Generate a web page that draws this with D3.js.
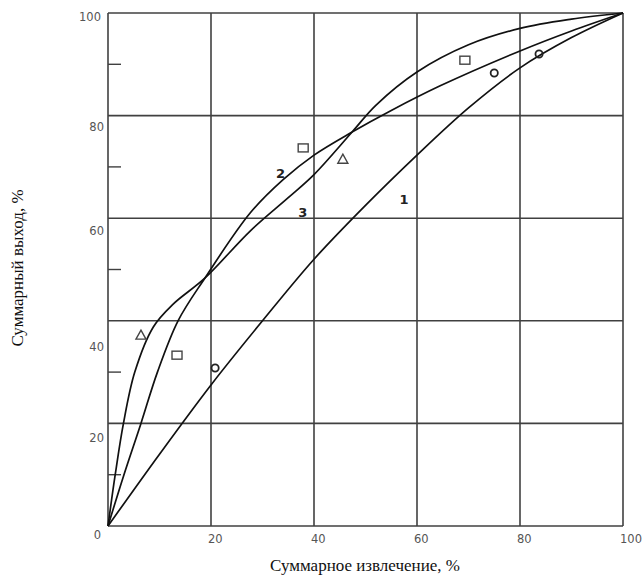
<!DOCTYPE html>
<html>
<head>
<meta charset="utf-8">
<script src="https://cdn.jsdelivr.net/npm/d3@7/dist/d3.min.js"></script>
<style>
html,body{margin:0;padding:0;background:#fff;}
svg{display:block;}
</style>
</head>
<body>
<script>
// ---- data ----
const xTicks = [0, 20, 40, 60, 80, 100];
const yTicks = [0, 20, 40, 60, 80, 100];
const yMinor = [10, 30, 50, 70, 90];
const xTickLabels = ["0", "20", "40", "60", "80", "100"];
const yTickLabels = ["0", "20", "40", "60", "80", "100"];

const curve1 = [[0,0],[10,14],[20,27.5],[30,40],[40,52],[50,62.5],[60,72.3],[70,81.5],[80,89.3],[90,95.2],[100,100]];
const curve2 = [[0,0],[3.1,10],[6.4,20],[9.6,30],[13.6,40],[18.8,48.3],[27.6,61],[34,67.5],[40,72.3],[47.4,76.8],[55,81],[64.5,85.8],[80,92.6],[90,96.5],[100,100]];
const curve3 = [[0,0],[1.4,10],[3.0,20],[5.2,30],[8.8,38.8],[12.6,43.2],[18.8,48.3],[27.6,57.5],[35,64],[40,68.5],[47.4,76.8],[52,82],[60,88.5],[70,93.8],[80,97],[90,98.8],[100,100]];

const triangles = [[6.4,37.2],[45.6,71.5]];
const squares = [[13.4,33.3],[37.9,73.7],[69.3,90.8]];
const circles = [[20.8,30.8],[75,88.3],[83.7,92]];

const curveLabels = [["1",57.5,63.5],["2",33.5,68.5],["3",37.8,61]];

const xTitle = "Суммарное извлечение, %";
const yTitle = "Суммарный выход, %";

// ---- layout ----
const W = 642, H = 576;
const L = 108, R = 623, T = 13, B = 526;

const svg = d3.select("body").append("svg").attr("width", W).attr("height", H);
const x = d3.scaleLinear().domain([0,100]).range([L,R]);
const y = d3.scaleLinear().domain([0,100]).range([B,T]);

const gridCol = "#404040";
// grid
svg.append("g").selectAll("line").data(xTicks).join("line")
  .attr("x1", d=>x(d)).attr("x2", d=>x(d)).attr("y1", T).attr("y2", B)
  .attr("stroke", gridCol).attr("stroke-width", 1.6);
svg.append("g").selectAll("line").data(yTicks).join("line")
  .attr("y1", d=>y(d)).attr("y2", d=>y(d)).attr("x1", L).attr("x2", R)
  .attr("stroke", gridCol).attr("stroke-width", 1.6);
// minor ticks
svg.append("g").selectAll("line").data(yMinor).join("line")
  .attr("y1", d=>y(d)).attr("y2", d=>y(d)).attr("x1", L).attr("x2", L+13)
  .attr("stroke", gridCol).attr("stroke-width", 1.4);

// tick labels
const tickFont = "'DejaVu Sans', Verdana, sans-serif";
svg.append("g").selectAll("text").data(xTicks.slice(1)).join("text")
  .attr("x", d=>x(d)-3).attr("y", B+17)
  .attr("font-family", tickFont).attr("font-size", 11.5).attr("fill", "#555")
  .text((d,i)=>xTickLabels[i+1]);
const yOff = {0:13, 20:19, 40:30, 60:17, 80:15, 100:8};
svg.append("g").selectAll("text").data(yTicks).join("text")
  .attr("x", d=> d===0 || d===100 ? 101 : 104).attr("y", d=>y(d)+yOff[d])
  .attr("text-anchor", "end")
  .attr("font-family", tickFont).attr("font-size", 11.5).attr("fill", "#555")
  .text((d,i)=>yTickLabels[i]);

// curves
const line = d3.line().x(d=>x(d[0])).y(d=>y(d[1])).curve(d3.curveCatmullRom.alpha(0.5));
[curve1, curve2, curve3].forEach(c=>{
  svg.append("path").datum(c).attr("d", line)
    .attr("fill","none").attr("stroke","#111").attr("stroke-width",1.7);
});

// markers
const mk = "#444";
svg.append("g").selectAll("path").data(triangles).join("path")
  .attr("d", d=>{const cx=x(d[0]), cy=y(d[1]); return `M${cx},${cy-5}L${cx+5},${cy+4}L${cx-5},${cy+4}Z`;})
  .attr("fill","none").attr("stroke",mk).attr("stroke-width",1.4);
svg.append("g").selectAll("rect").data(squares).join("rect")
  .attr("x", d=>x(d[0])-5).attr("y", d=>y(d[1])-4).attr("width",10).attr("height",8)
  .attr("fill","none").attr("stroke",mk).attr("stroke-width",1.4);
svg.append("g").selectAll("circle").data(circles).join("circle")
  .attr("cx", d=>x(d[0])).attr("cy", d=>y(d[1])).attr("r",3.6)
  .attr("fill","none").attr("stroke","#222").attr("stroke-width",1.8);

// curve labels
svg.append("g").selectAll("text").data(curveLabels).join("text")
  .attr("x", d=>x(d[1])).attr("y", d=>y(d[2]))
  .attr("text-anchor","middle").attr("dominant-baseline","middle")
  .attr("font-family","'DejaVu Sans', sans-serif").attr("font-weight","bold")
  .attr("font-size",13).attr("fill","#222").text(d=>d[0]);

// axis titles
svg.append("text").attr("x", 365).attr("y", 571).attr("text-anchor","middle")
  .attr("font-family","'Liberation Serif', 'Times New Roman', serif").attr("font-size",17)
  .attr("fill","#111").text(xTitle);
svg.append("text").attr("transform","translate(23,268) rotate(-90)").attr("text-anchor","middle")
  .attr("font-family","'Liberation Serif', 'Times New Roman', serif").attr("font-size",17)
  .attr("fill","#111").text(yTitle);
</script>
</body>
</html>
